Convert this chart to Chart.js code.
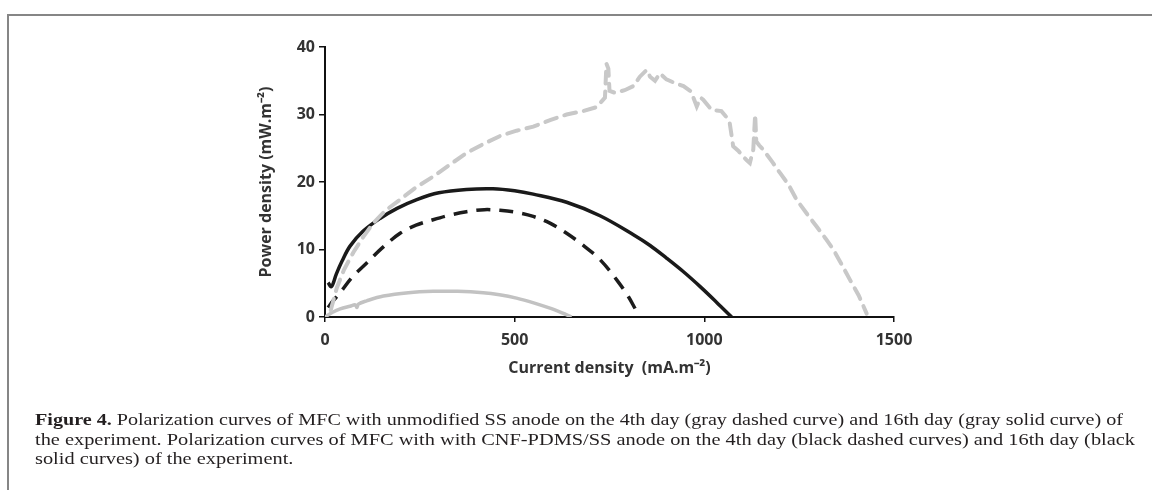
<!DOCTYPE html>
<html>
<head>
<meta charset="utf-8">
<script src="https://cdn.jsdelivr.net/npm/chart.js@4/dist/chart.umd.min.js"></script>
<style>
  html, body { margin: 0; padding: 0; background: #fff; }
  body { width: 1152px; height: 490px; position: relative; overflow: hidden; }
  #chart { position: absolute; left: 0; top: 0; }
  .frame-top { position: absolute; left: 7px; top: 14px; width: 1145px; height: 2px; background: #868686; }
  .frame-left { position: absolute; left: 7px; top: 14px; width: 2px; height: 476px; background: #868686; }
  .caption { position: absolute; left: 35px; font-family: "Liberation Serif", "DejaVu Serif", serif;
    font-size: 17px; line-height: 19px; color: #231f20; white-space: nowrap; transform-origin: 0 50%; }
  .caption b { font-weight: bold; }
</style>
</head>
<body>
<div class="frame-top"></div>
<div class="frame-left"></div>
<canvas id="chart" width="1152" height="490"></canvas>
<div class="caption" id="cap1" style="top:410px"><b>Figure 4.</b> Polarization curves of MFC with unmodified SS anode on the 4th day (gray dashed curve) and 16th day (gray solid curve) of</div>
<div class="caption" id="cap2" style="top:429.5px">the experiment. Polarization curves of MFC with with CNF-PDMS/SS anode on the 4th day (black dashed curves) and 16th day (black</div>
<div class="caption" id="cap3" style="top:449px">solid curves) of the experiment.</div>
<script>
// axis ticks
const xTicks = [0, 500, 1000, 1500]
const yTicks = [0, 10, 20, 30, 40]

// CNF-PDMS/SS anode, 16th day (black solid)
const cnfDay16X = [8, 17, 30, 45, 66, 100, 145, 190, 242, 300, 373, 443, 500, 549, 637, 725, 813, 857, 901, 945, 989, 1032, 1072]
const cnfDay16Y = [5.1, 4.5, 6.4, 8.3, 10.5, 12.7, 14.6, 16.1, 17.4, 18.4, 18.9, 19.0, 18.7, 18.2, 17.0, 15.0, 12.2, 10.6, 8.7, 6.7, 4.5, 2.2, 0]

// CNF-PDMS/SS anode, 4th day (black dashed)
const cnfDay4X = [8, 20, 40, 70, 110, 150, 198, 240, 285, 330, 373, 420, 461, 505, 549, 593, 637, 681, 725, 769, 800, 818]
const cnfDay4Y = [1.4, 2.3, 3.6, 5.8, 8.0, 10.2, 12.4, 13.6, 14.4, 15.1, 15.6, 15.9, 15.8, 15.5, 14.9, 13.9, 12.4, 10.6, 8.5, 5.5, 3.0, 1.2]

// unmodified SS anode, 16th day (gray solid)
const ssDay16X = [0, 20, 40, 66, 80, 84, 88, 110, 154, 220, 285, 350, 417, 460, 505, 550, 593, 625, 650]
const ssDay16Y = [0, 0.7, 1.2, 1.6, 1.8, 1.4, 1.9, 2.4, 3.1, 3.6, 3.8, 3.8, 3.6, 3.3, 2.8, 2.1, 1.3, 0.6, 0]

// unmodified SS anode, 4th day (gray dashed)
const ssDay4X = [15, 31, 50, 75, 100, 127, 160, 198, 240, 285, 330, 373, 420, 461, 505, 549, 595, 637, 680, 716, 738, 742, 747, 750, 765, 790, 813, 830, 848, 857, 870, 883, 900, 925, 945, 965, 980, 990, 997, 1019, 1045, 1060, 1067, 1076, 1090, 1102, 1112, 1120, 1129, 1134, 1137, 1145, 1155, 1180, 1200, 1222, 1243, 1269, 1296, 1320, 1340, 1362, 1384, 1407, 1428]
const ssDay4Y = [1.0, 4.3, 7.0, 9.6, 11.8, 13.9, 15.8, 17.4, 19.2, 20.8, 22.6, 24.3, 25.7, 26.8, 27.6, 28.2, 29.2, 30.0, 30.5, 31.1, 32.5, 37.5, 36.8, 33.5, 33.2, 33.6, 34.2, 35.6, 36.6, 35.6, 35.0, 36.1, 35.2, 34.6, 34.2, 33.4, 31.2, 32.5, 32.2, 30.7, 30.5, 29.5, 28.7, 25.3, 24.6, 23.8, 23.2, 22.8, 24.8, 30.0, 26.0, 25.4, 24.8, 22.9, 21.3, 19.6, 17.4, 15.4, 13.4, 11.6, 10.0, 7.8, 5.5, 3.2, 0.5]

const toPoints = (xs, ys) => xs.map((x, i) => ({ x: x, y: ys[i] }))

const tickFont = { family: "'Open Sans', sans-serif", size: 16, weight: "bold" }
const titleFont = { family: "'Open Sans', sans-serif", size: 16, weight: "bold" }

const chartCanvas = document.getElementById("chart")

new Chart(chartCanvas, {
  type: "scatter",
  data: {
    datasets: [
      {
        label: "SS 4th day",
        data: toPoints(ssDay4X, ssDay4Y),
        borderColor: "#c8c8c8",
        borderWidth: 4,
        borderDash: [12, 8],
        borderCapStyle: "round",
        tension: 0,
      },
      {
        label: "SS 16th day",
        data: toPoints(ssDay16X, ssDay16Y),
        borderColor: "#c2c2c2",
        borderWidth: 3.5,
        tension: 0.35,
      },
      {
        label: "CNF-PDMS/SS 4th day",
        data: toPoints(cnfDay4X, cnfDay4Y),
        borderColor: "#1c1c1c",
        borderWidth: 3.5,
        borderDash: [14, 9],
        tension: 0.35,
      },
      {
        label: "CNF-PDMS/SS 16th day",
        data: toPoints(cnfDay16X, cnfDay16Y),
        borderColor: "#1a1a1a",
        borderWidth: 3.5,
        tension: 0.35,
      },
    ],
  },
  options: {
    responsive: false,
    animation: false,
    showLine: true,
    elements: { point: { radius: 0, hoverRadius: 0 } },
    layout: { padding: { left: 255, right: 258, top: 47, bottom: 112 } },
    plugins: { legend: { display: false }, tooltip: { enabled: false } },
    scales: {
      x: {
        type: "linear",
        min: xTicks[0],
        max: xTicks[xTicks.length - 1],
        afterBuildTicks: (scale) => { scale.ticks = xTicks.map((v) => ({ value: v })) },
        afterFit: (scale) => { scale.height = 61 },
        border: { display: true, color: "#111", width: 2 },
        grid: { drawOnChartArea: false, drawTicks: true, tickLength: 5, color: "#111", lineWidth: 1.5 },
        ticks: { color: "#333", font: tickFont, padding: 9, maxRotation: 0, callback: (v) => String(v) },
        title: { display: true, text: "Current density  (mA.m⁻²)", color: "#333", font: titleFont, padding: 0 },
      },
      y: {
        type: "linear",
        min: yTicks[0],
        max: yTicks[yTicks.length - 1],
        afterBuildTicks: (scale) => { scale.ticks = yTicks.map((v) => ({ value: v })) },
        afterFit: (scale) => { scale.width = 70 },
        border: { display: true, color: "#111", width: 2 },
        grid: { drawOnChartArea: false, drawTicks: true, tickLength: 6, color: "#111", lineWidth: 1.5 },
        ticks: { color: "#333", font: tickFont, padding: 4, callback: (v) => String(v) },
        title: { display: true, text: "Power density (mW.m⁻²)", color: "#333", font: titleFont, padding: { top: 2, bottom: 0 } },
      },
    },
  },
})

// squeeze caption lines to the widths of the original typesetting
function fitCaption(id, target) {
  const el = document.getElementById(id)
  const w = el.getBoundingClientRect().width
  const k = target / w
  el.style.transform = "scaleX(" + k + ")"
  return k
}
const k2 = fitCaption("cap2", 1100)
fitCaption("cap1", 1088)
document.getElementById("cap3").style.transform = "scaleX(" + k2 + ")"
</script>
</body>
</html>
